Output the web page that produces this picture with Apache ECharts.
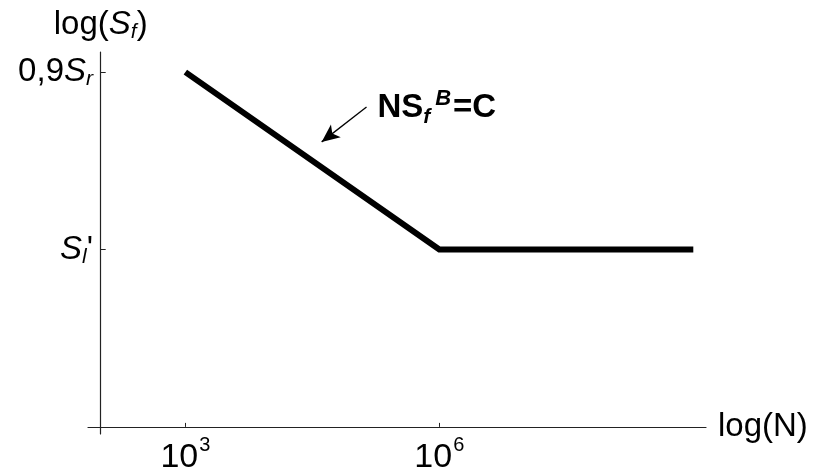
<!DOCTYPE html>
<html>
<head>
<meta charset="utf-8">
<script src="https://cdn.jsdelivr.net/npm/echarts@6/dist/echarts.min.js"></script>
<style>
  html, body { margin: 0; padding: 0; background: #fff; }
  #chart { width: 814px; height: 470px; }
</style>
</head>
<body>
<div id="chart"></div>
<script>
// S-N curve (log-log): sloped segment from 10^3 cycles down to the endurance limit at 10^6
const cycleExp = [3, 6, 9];          // log10(N) of the curve vertices
const stressLevel = [3, 1.5, 1.5];   // log(Sf) in arbitrary units: 0.9Sr, Se', Se'
const xTickExp = [3, 6];             // labelled decades on the N axis
const yTicks = [3, 1.5];             // labelled stress levels
const yTickNames = { 3: '{n|0,9}{i|S}{sub|r}', 1.5: '{i|S}{sub|l}{n|\'}' };
const axisOriginExp = 2;             // axes cross at 10^2

// annotation arrow and formula (data units)
const arrowFrom = [5.14, 2.705];
const arrowTo = [4.61, 2.41];
const formulaAt = [5.97, 2.70];

const FONT = 'Liberation Sans, Arial, sans-serif';
const shiftX = e => e - axisOriginExp;

const textRich = {
  n: { fontFamily: FONT, fontSize: 33, color: '#000', lineHeight: 36 },
  i: { fontFamily: FONT, fontSize: 33, fontStyle: 'italic', color: '#000', lineHeight: 36 },
  sub: { fontFamily: FONT, fontSize: 21, fontStyle: 'italic', color: '#000', lineHeight: 22, verticalAlign: 'bottom' }
};

const chart = echarts.init(document.getElementById('chart'));
chart.setOption({
  animation: false,
  backgroundColor: '#fff',
  grid: { left: 88, right: 108, top: 52, bottom: 36, containLabel: false, outerBoundsMode: 'none' },
  xAxis: {
    type: 'value',
    min: -0.15, max: 7.15,
    splitLine: { show: false },
    axisLine: { onZero: true, lineStyle: { color: '#222', width: 1.2 } },
    axisTick: { show: true, inside: true, length: 4, customValues: xTickExp.map(shiftX), lineStyle: { color: '#222' } },
    axisLabel: {
      customValues: xTickExp.map(shiftX),
      margin: 1,
      formatter: v => '{n|10}{sup|' + Math.round(v + axisOriginExp) + '}',
      rich: {
        n: { fontFamily: FONT, fontSize: 34, color: '#000', lineHeight: 40, verticalAlign: 'bottom' },
        sup: { fontFamily: FONT, fontSize: 20, color: '#000', lineHeight: 20, verticalAlign: 'top', padding: [0, 0, 0, 1] }
      }
    },
    name: 'log(N)',
    nameLocation: 'end',
    nameGap: 12,
    nameTextStyle: { fontFamily: FONT, fontSize: 33, color: '#000' }
  },
  yAxis: {
    type: 'value',
    min: -0.06, max: 3.17,
    splitLine: { show: false },
    axisLine: { onZero: true, lineStyle: { color: '#222', width: 1.2 } },
    axisTick: { show: true, inside: true, length: 5, customValues: yTicks, lineStyle: { color: '#222' } },
    axisLabel: {
      customValues: yTicks,
      margin: -5,
      formatter: v => yTickNames[v],
      rich: textRich
    },
    name: '{n|log(}{i|S}{sub|f}{n|)}',
    nameLocation: 'end',
    nameGap: 9,
    nameTextStyle: { rich: textRich }
  },
  series: [{
    type: 'line',
    data: cycleExp.map((e, i) => [shiftX(e), stressLevel[i]]),
    symbol: 'none',
    lineStyle: { color: '#000', width: 6, join: 'miter', cap: 'butt' },
    markLine: {
      silent: true,
      symbol: ['none', 'arrow'],
      symbolSize: [12, 18],
      label: { show: false },
      lineStyle: { color: '#000', width: 1.3, type: 'solid' },
      data: [[
        { coord: [shiftX(arrowFrom[0]), arrowFrom[1]] },
        { coord: [shiftX(arrowTo[0]), arrowTo[1]] }
      ]]
    },
    markPoint: {
      silent: true,
      symbol: 'circle',
      symbolSize: 0,
      data: [{ coord: [shiftX(formulaAt[0]), formulaAt[1]] }],
      label: {
        show: true,
        position: 'inside',
        formatter: '{b|NS}{sub|f}{sup|B}{b|=C}',
        rich: {
          b: { fontFamily: FONT, fontSize: 33, fontWeight: 'bold', color: '#000', lineHeight: 40 },
          sub: { fontFamily: FONT, fontSize: 21, fontWeight: 'bold', fontStyle: 'italic', color: '#000', lineHeight: 24, verticalAlign: 'bottom' },
          sup: { fontFamily: FONT, fontSize: 22, fontWeight: 'bold', fontStyle: 'italic', color: '#000', lineHeight: 24, verticalAlign: 'top', padding: [0, 2, 0, 5] }
        }
      }
    }
  }]
});
</script>
</body>
</html>
